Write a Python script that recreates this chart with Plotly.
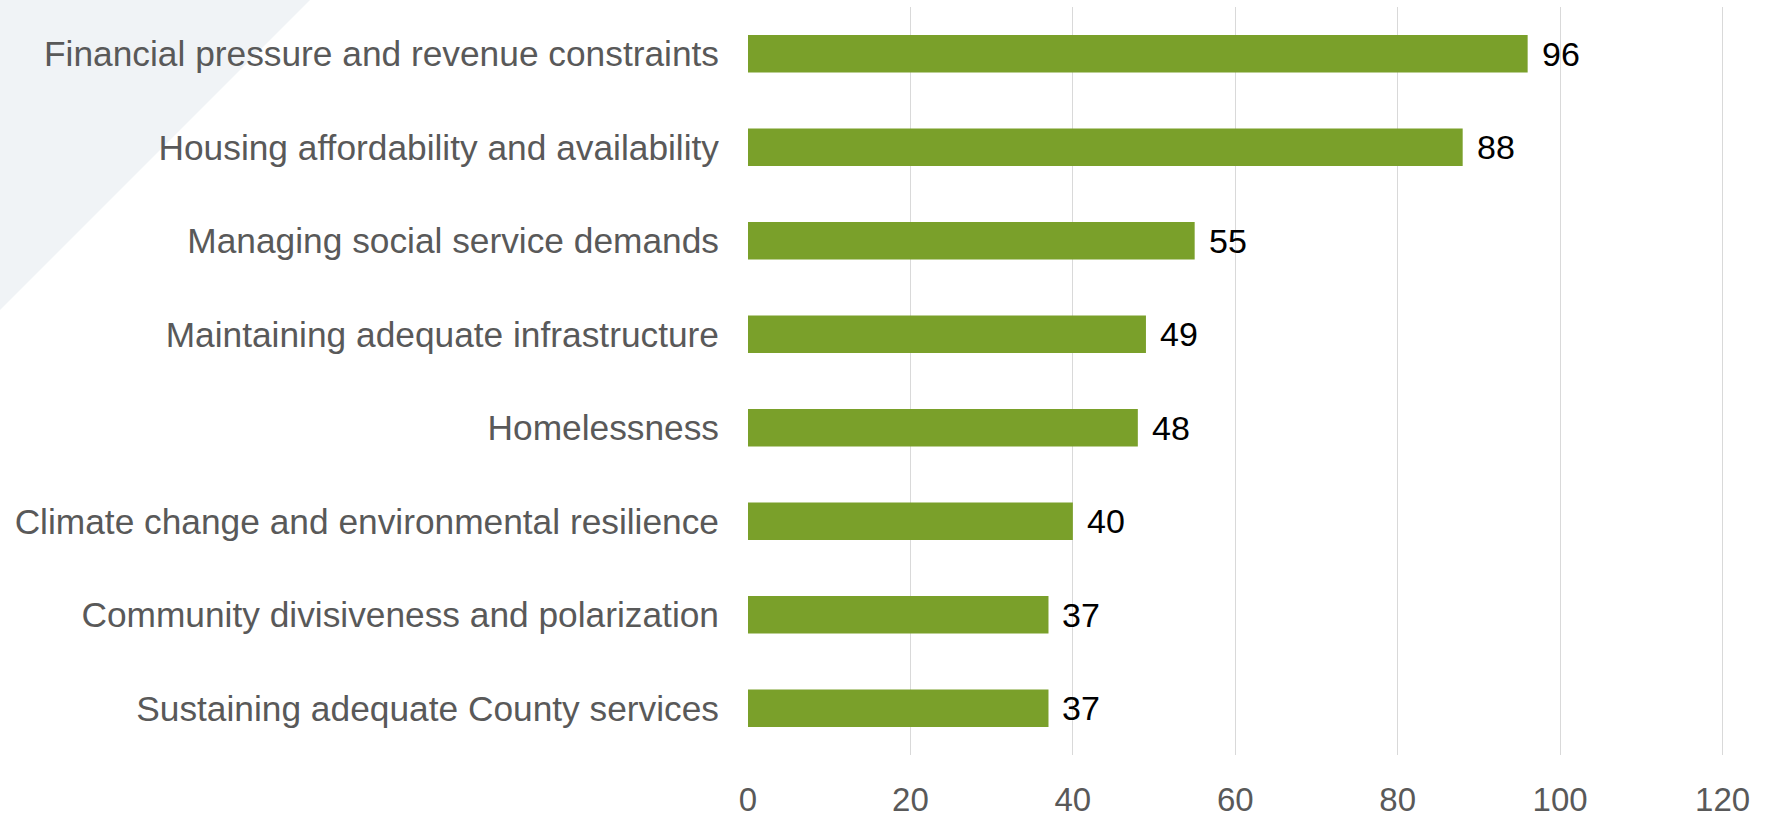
import plotly.graph_objects as go

# Survey: top challenges facing the County (number of responses)
categories = [
    "Financial pressure and revenue constraints",
    "Housing affordability and availability",
    "Managing social service demands",
    "Maintaining adequate infrastructure",
    "Homelessness",
    "Climate change and environmental resilience",
    "Community divisiveness and polarization",
    "Sustaining adequate County services",
]
responses = [96, 88, 55, 49, 48, 40, 37, 37]
x_ticks = [0, 20, 40, 60, 80, 100, 120]

W, H = 1771, 818
M_L, M_R, M_T, M_B = 748, 46, 7, 63
plot_w = W - M_L - M_R
plot_h = H - M_T - M_B

BAR_GREEN = "#7AA02A"
TEXT_GREY = "#595959"
FONT = "Liberation Sans, Arial, sans-serif"

fig = go.Figure(
    go.Bar(
        x=responses,
        y=categories,
        orientation="h",
        marker=dict(color=BAR_GREEN, line=dict(width=0)),
        hoverinfo="x+y",
    )
)

# value labels just past the end of each bar
for cat, val in zip(categories, responses):
    fig.add_annotation(
        x=val, y=cat, text=str(val), showarrow=False,
        xanchor="left", yanchor="middle", xshift=12,
        font=dict(family=FONT, size=34, color="#000000"),
    )

# decorative pale triangle in the top-left corner
def px_x(px):
    return (px - M_L) / plot_w

def px_y(py):
    return (H - M_B - py) / plot_h

tri = (
    f"M {px_x(0)} {px_y(0)} L {px_x(310)} {px_y(0)} "
    f"L {px_x(0)} {px_y(310)} Z"
)
fig.add_shape(
    type="path", path=tri, xref="paper", yref="paper",
    fillcolor="#F0F3F6", line=dict(width=0), layer="below",
)

fig.update_layout(
    width=W, height=H,
    margin=dict(l=M_L, r=M_R, t=M_T, b=M_B, autoexpand=False),
    paper_bgcolor="white",
    plot_bgcolor="rgba(0,0,0,0)",
    bargap=0.6,
    showlegend=False,
    font=dict(family=FONT, color=TEXT_GREY),
    xaxis=dict(
        range=[0, 120.3],
        tickvals=x_ticks,
        ticktext=[str(t) for t in x_ticks],
        showgrid=True, gridcolor="#D9D9D9", gridwidth=1.3,
        zeroline=False, showline=False,
        tickfont=dict(family=FONT, size=33, color=TEXT_GREY),
        ticks="", ticklabelstandoff=22,
        fixedrange=True,
    ),
    yaxis=dict(
        categoryorder="array",
        categoryarray=categories[::-1],
        showgrid=False, zeroline=False, showline=False,
        tickfont=dict(family=FONT, size=35.3, color=TEXT_GREY),
        ticks="", ticklabelstandoff=28,
        fixedrange=True,
    ),
)

fig.write_html("out.html")
